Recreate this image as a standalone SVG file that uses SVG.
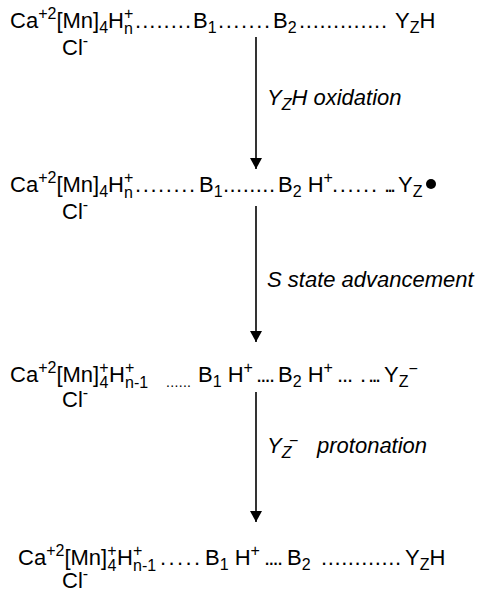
<svg xmlns="http://www.w3.org/2000/svg" width="482" height="599" viewBox="0 0 482 599">
<style>
text{font-family:"Liberation Sans",Arial,sans-serif;font-size:22px;fill:#000}
.s{font-size:16px}
.d{font-size:14px}
.m{font-size:16px}
.i{font-style:italic}
.ln{stroke:#000;stroke-width:1.6;fill:none}
</style>
<defs>
<marker id="ah" viewBox="0 0 11 12" refX="11" refY="6" markerWidth="11" markerHeight="12" markerUnits="userSpaceOnUse" orient="auto">
<path d="M0,0 L11,6 L0,12 Z" fill="#000"/>
</marker>
</defs>
<g id="row1">
<text x="10" y="28">Ca<tspan class="s" dy="-9">+2</tspan><tspan dy="9">[Mn]</tspan><tspan class="s" dy="5">4</tspan><tspan dy="-5">H</tspan><tspan class="s" dy="-9">+</tspan><tspan class="s" x="124" dy="15">n</tspan></text>
<text x="135" y="28" textLength="56">........</text>
<text x="193" y="28">B<tspan class="s" dy="5">1</tspan></text>
<text x="218" y="28" textLength="52">.......</text>
<text x="273" y="28">B<tspan class="s" dy="5">2</tspan></text>
<text x="299" y="28" textLength="88">.............</text>
<text x="395" y="28">Y<tspan class="s" dy="5">Z</tspan><tspan dy="-5">H</tspan></text>
<text x="62" y="55">Cl<tspan class="s" dy="-9">-</tspan></text>
</g>
<g id="row2">
<text x="10" y="192">Ca<tspan class="s" dy="-9">+2</tspan><tspan dy="9">[Mn]</tspan><tspan class="s" dy="5">4</tspan><tspan dy="-5">H</tspan><tspan class="s" dy="-9">+</tspan><tspan class="s" x="124" dy="15">n</tspan></text>
<text x="135" y="192" textLength="60">........</text>
<text x="199" y="192">B<tspan class="s" dy="5">1</tspan></text>
<text x="223" y="192" textLength="52">........</text>
<text x="278" y="192">B<tspan class="s" dy="5">2</tspan><tspan dy="-5"> H</tspan><tspan class="s" dy="-9">+</tspan></text>
<text x="332" y="192" textLength="45">......</text>
<text x="384" y="192" textLength="12">...</text>
<text x="398" y="192">Y<tspan class="s" dy="5">Z</tspan></text>
<circle cx="431" cy="184" r="5" fill="#000"/>
<text x="62" y="219">Cl<tspan class="s" dy="-9">-</tspan></text>
</g>
<g id="row3">
<text x="10" y="382">Ca<tspan class="s" dy="-9">+2</tspan><tspan dy="9">[Mn]</tspan><tspan class="s" dy="-9">+</tspan><tspan class="s" x="99.5" dy="15">4</tspan><tspan x="109" dy="-6">H</tspan><tspan class="s" dy="-9">+</tspan><tspan class="s" x="125" dy="15">n-1</tspan></text>
<text class="d" x="166" y="387" textLength="25">......</text>
<text x="198" y="382">B<tspan class="s" dy="5">1</tspan><tspan dy="-5"> H</tspan><tspan class="s" dy="-9">+</tspan></text>
<text x="256" y="382" textLength="19">....</text>
<text x="278" y="382">B<tspan class="s" dy="5">2</tspan><tspan dy="-5"> H</tspan><tspan class="s" dy="-9">+</tspan></text>
<text x="337" y="382" textLength="16">...</text>
<text x="360" y="382">.</text>
<text x="368" y="382" textLength="13">...</text>
<text x="384" y="382">Y<tspan class="s" dy="5">Z</tspan><tspan class="m" dy="-13">−</tspan></text>
<text x="62" y="407">Cl<tspan class="s" dy="-9">-</tspan></text>
</g>
<g id="row4">
<text x="18" y="565">Ca<tspan class="s" dy="-9">+2</tspan><tspan dy="9">[Mn]</tspan><tspan class="s" dy="-9">+</tspan><tspan class="s" x="107.5" dy="15">4</tspan><tspan x="117" dy="-6">H</tspan><tspan class="s" dy="-9">+</tspan><tspan class="s" x="133" dy="15">n-1</tspan></text>
<text x="160" y="565" textLength="40">.....</text>
<text x="205" y="565">B<tspan class="s" dy="5">1</tspan><tspan dy="-5"> H</tspan><tspan class="s" dy="-9">+</tspan></text>
<text x="264" y="565" textLength="19">....</text>
<text x="287" y="565">B<tspan class="s" dy="5">2</tspan></text>
<text x="321" y="565" textLength="80">............</text>
<text x="405" y="565">Y<tspan class="s" dy="5">Z</tspan><tspan dy="-5">H</tspan></text>
<text x="62" y="588">Cl<tspan class="s" dy="-9">-</tspan></text>
</g>
<g id="connectors">
<line class="ln" x1="256" y1="37" x2="256" y2="169" marker-end="url(#ah)"/>
<line class="ln" x1="256" y1="206" x2="256" y2="342" marker-end="url(#ah)"/>
<line class="ln" x1="256" y1="392" x2="256" y2="522" marker-end="url(#ah)"/>
<text class="i" x="267" y="105">Y<tspan class="s" dy="5">Z</tspan><tspan dy="-5">H oxidation</tspan></text>
<text class="i" x="267" y="287">S state advancement</text>
<text class="i" x="267" y="453">Y<tspan class="s" dy="5">Z</tspan></text>
<text class="m" x="289" y="446">−</text>
<text class="i" x="317" y="453">protonation</text>
</g>
</svg>
